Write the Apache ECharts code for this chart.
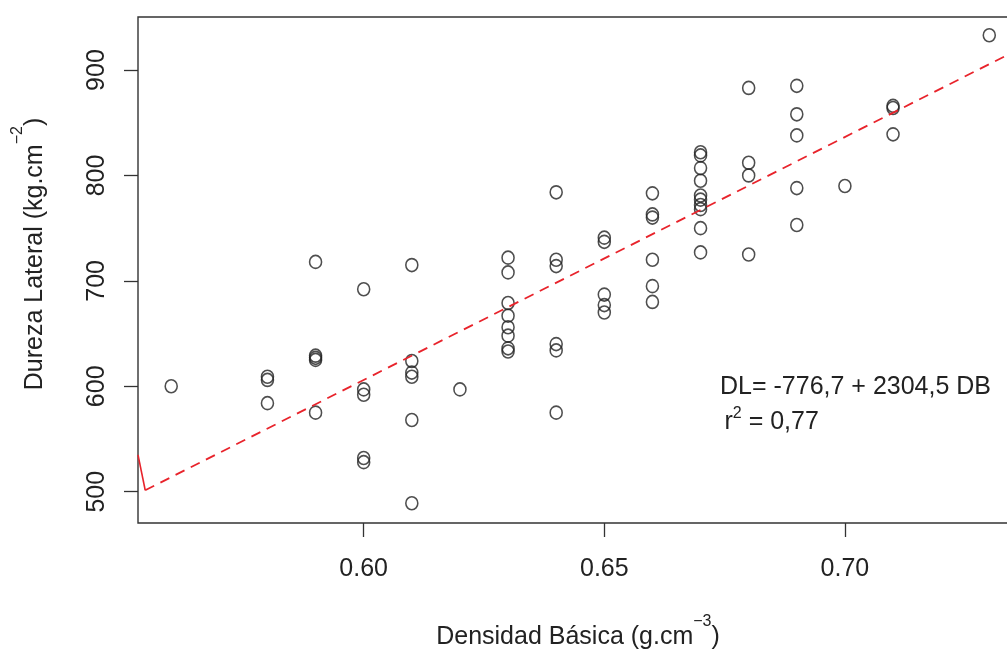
<!DOCTYPE html>
<html>
<head>
<meta charset="utf-8">
<script src="https://cdn.jsdelivr.net/npm/echarts@6/dist/echarts.min.js"></script>
<style>
  html, body { margin: 0; padding: 0; background: #fff; }
  #chart { width: 1007px; height: 653px; }
</style>
</head>
<body>
<div id="chart"></div>
<script>
// Basic density (g/cm3) and lateral hardness (kg/cm2), one entry per specimen
const densidadBasica = [
  0.56,
  0.58, 0.58, 0.58,
  0.59, 0.59, 0.59, 0.59, 0.59,
  0.60, 0.60, 0.60, 0.60, 0.60,
  0.61, 0.61, 0.61, 0.61, 0.61, 0.61,
  0.62,
  0.63, 0.63, 0.63, 0.63, 0.63, 0.63, 0.63, 0.63,
  0.64, 0.64, 0.64, 0.64, 0.64, 0.64,
  0.65, 0.65, 0.65, 0.65, 0.65,
  0.66, 0.66, 0.66, 0.66, 0.66, 0.66,
  0.67, 0.67, 0.67, 0.67, 0.67, 0.67, 0.67, 0.67, 0.67, 0.67,
  0.68, 0.68, 0.68, 0.68,
  0.69, 0.69, 0.69, 0.69, 0.69,
  0.70,
  0.71, 0.71, 0.71,
  0.73
];
const durezaLateral = [
  600,
  609, 606, 584,
  718, 629, 627, 625, 575,
  692, 597, 592, 532, 528,
  715, 624, 613, 609, 568, 489,
  597,
  722, 708, 679, 667, 656, 648, 636, 633,
  784, 720, 714, 640, 634, 575,
  741, 737, 687, 677, 670,
  783, 763, 760, 720, 695, 680,
  822, 819, 807, 795, 781, 777, 772, 768, 750, 727,
  883, 812, 800, 725,
  885, 858, 838, 788, 753,
  790,
  866, 864, 839,
  933
];

// Axis ticks
const xTicks = [0.60, 0.65, 0.70];
const yTicks = [500, 600, 700, 800, 900];

// Axis ranges
const xRange = [0.5531, 0.7368];
const yRange = [470.3, 950.3];

// Fitted regression DL = a + b * DB
const intercept = -776.7;
const slope = 2304.5;
const fitStart = 0.5546;
const stubStart = [0.5531, 535];

const fitLine = [fitStart, xRange[1]].map(x => [x, intercept + slope * x]);
const stubLine = [stubStart, fitLine[0]];
const points = densidadBasica.map((x, i) => [x, durezaLateral[i]]);

const FONT = "'Liberation Sans', Arial, Helvetica, sans-serif";
const INK = '#222';
const AXIS = '#333';
const RED = '#e8232b';

const chart = echarts.init(document.getElementById('chart'), null, { renderer: 'canvas' });

chart.setOption({
  backgroundColor: '#fff',
  animation: false,
  grid: {
    left: 138, top: 17, right: -15, bottom: 130,
    show: true, borderColor: AXIS, borderWidth: 1.4,
    containLabel: false, outerBoundsMode: 'none'
  },
  xAxis: {
    type: 'value',
    min: xRange[0], max: xRange[1],
    splitLine: { show: false },
    axisLine: { show: false },
    axisTick: { show: true, customValues: xTicks, length: 14, lineStyle: { color: AXIS, width: 1.3 } },
    axisLabel: {
      customValues: xTicks, margin: 34,
      formatter: v => v.toFixed(2),
      fontFamily: FONT, fontSize: 25, color: INK
    }
  },
  yAxis: {
    type: 'value',
    min: yRange[0], max: yRange[1],
    splitLine: { show: false },
    axisLine: { show: false },
    axisTick: { show: true, customValues: yTicks, length: 14, lineStyle: { color: AXIS, width: 1.3 } },
    axisLabel: {
      customValues: yTicks, rotate: 90, margin: 28,
      fontFamily: FONT, fontSize: 25, color: INK
    }
  },
  series: [
    {
      type: 'line', data: stubLine, symbol: 'none', silent: true,
      lineStyle: { color: RED, width: 1.6 }
    },
    {
      type: 'line', data: fitLine, symbol: 'none', silent: true,
      lineStyle: { color: RED, width: 1.8, type: [10, 7] }
    },
    {
      type: 'scatter', data: points,
      symbol: 'circle', symbolSize: [12, 13],
      itemStyle: { color: 'rgba(0,0,0,0)', borderColor: INK, borderWidth: 1.6 }
    }
  ],
  graphic: [
    {
      type: 'text', x: 578, y: 637, silent: true,
      style: {
        text: '{b|Densidad Básica (g.cm}{s|\u22123}{b|)}',
        align: 'center', verticalAlign: 'middle', textAlign: 'center', textVerticalAlign: 'middle',
        fill: INK,
        rich: {
          b: { fontFamily: FONT, fontSize: 25, lineHeight: 46, fill: INK, color: INK },
          s: { fontFamily: FONT, fontSize: 16, lineHeight: 16, verticalAlign: 'top', fill: INK, color: INK }
        }
      }
    },
    {
      type: 'text', x: 35, y: 254, rotation: Math.PI / 2, silent: true,
      style: {
        text: '{b|Dureza Lateral (kg.cm}{s|\u22122}{b|)}',
        align: 'center', verticalAlign: 'middle', textAlign: 'center', textVerticalAlign: 'middle',
        fill: INK,
        rich: {
          b: { fontFamily: FONT, fontSize: 25, lineHeight: 50, fill: INK, color: INK },
          s: { fontFamily: FONT, fontSize: 16, lineHeight: 16, verticalAlign: 'top', fill: INK, color: INK }
        }
      }
    },
    {
      type: 'text', x: 720, y: 387, silent: true,
      style: {
        text: 'DL= -776,7 + 2304,5 DB',
        font: '25px ' + FONT, fill: INK,
        align: 'left', verticalAlign: 'middle', textAlign: 'left', textVerticalAlign: 'middle'
      }
    },
    {
      type: 'text', x: 724.5, y: 422, silent: true,
      style: {
        text: '{b|r}{s|2}{b| = 0,77}',
        align: 'left', verticalAlign: 'middle', textAlign: 'left', textVerticalAlign: 'middle',
        fill: INK,
        rich: {
          b: { fontFamily: FONT, fontSize: 25, lineHeight: 33, fill: INK, color: INK },
          s: { fontFamily: FONT, fontSize: 16, lineHeight: 16, verticalAlign: 'top', fill: INK, color: INK }
        }
      }
    }
  ]
});
</script>
</body>
</html>
